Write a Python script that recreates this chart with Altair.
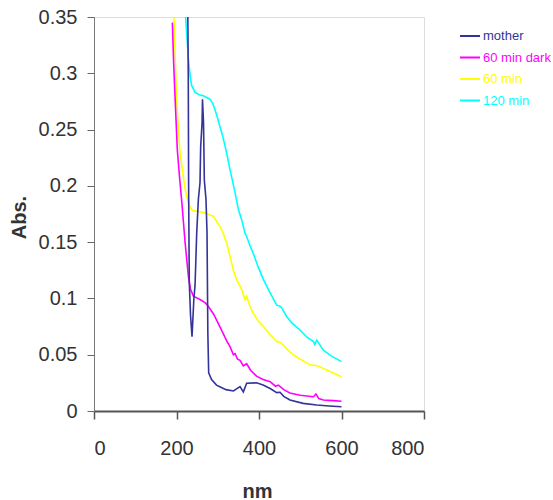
import altair as alt
import pandas as pd

series_names = ["mother", "60 min dark", "60 min", "120 min"]
series_colors = ["#333399", "#FF00FF", "#FFFF00", "#00FFFF"]

mother_nm = [226, 228.5, 229.5, 231, 234, 237.6, 239.5, 242, 245, 249, 253, 257, 258.6, 262, 263,
             265.5, 267.5, 271.5, 274, 276, 278, 285, 297, 305, 320, 338, 354, 362, 370, 394, 410,
             427, 443, 451, 460, 475, 507, 540, 570, 600]
mother_abs = [0.42, 0.30, 0.19, 0.114, 0.085, 0.066, 0.08, 0.099, 0.112, 0.158, 0.188, 0.203, 0.235,
              0.256, 0.277, 0.256, 0.205, 0.188, 0.158, 0.069, 0.034, 0.028, 0.023, 0.0216, 0.019,
              0.0178, 0.0216, 0.017, 0.0246, 0.025, 0.023, 0.020, 0.0163, 0.0166, 0.013, 0.0098,
              0.0068, 0.0053, 0.0045, 0.0038]

dark_nm = [190, 193, 196, 202, 208, 213, 221, 229, 234, 241, 257, 270, 277, 290, 297, 305, 313, 322,
           330, 338, 342, 348, 354, 362, 370, 380, 394, 410, 427, 440, 447, 460, 475, 500, 532, 538,
           545, 556, 580, 600]
dark_abs = [0.345, 0.31, 0.283, 0.232, 0.205, 0.185, 0.149, 0.119, 0.108, 0.102, 0.099, 0.096, 0.093,
            0.086, 0.081, 0.075, 0.069, 0.062, 0.057, 0.050, 0.051, 0.046, 0.045, 0.040, 0.042,
            0.036, 0.031, 0.028, 0.026, 0.022, 0.023, 0.019, 0.016, 0.014, 0.0127, 0.015, 0.011,
            0.0098, 0.0092, 0.0086]

light_nm = [190, 194, 200, 208, 215, 221, 228, 234, 240, 255, 270, 281, 289, 305, 313, 322, 330, 338,
            346, 358, 366, 370, 378, 386, 398, 411, 427, 443, 451, 455, 470, 483, 500, 524, 544, 560,
            572, 600]
light_abs = [0.40, 0.35, 0.277, 0.232, 0.212, 0.197, 0.186, 0.180, 0.178, 0.177, 0.176, 0.174, 0.173,
             0.164, 0.158, 0.149, 0.137, 0.125, 0.1165, 0.108, 0.099, 0.102, 0.093, 0.087, 0.080,
             0.075, 0.0676, 0.0617, 0.061, 0.060, 0.054, 0.050, 0.046, 0.041, 0.040, 0.037, 0.035,
             0.0305]

m120_nm = [212, 222, 229, 234, 237, 245, 255, 265, 281, 288, 293, 299, 305, 312, 318, 324, 330, 336,
           342, 350, 358, 366, 370, 378, 386, 398, 411, 427, 443, 451, 455, 467, 480, 499, 515, 532,
           535, 540, 556, 575, 600]
m120_abs = [0.41, 0.35, 0.312, 0.295, 0.289, 0.283, 0.281, 0.280, 0.277, 0.273, 0.268, 0.261, 0.253,
            0.244, 0.235, 0.225, 0.214, 0.204, 0.194, 0.179, 0.170, 0.158, 0.155, 0.147, 0.140,
            0.128, 0.1165, 0.105, 0.094, 0.093, 0.0916, 0.084, 0.078, 0.072, 0.066, 0.0617, 0.059,
            0.063, 0.054, 0.049, 0.0439]

x_ticks = [0, 200, 400, 600, 800]
y_ticks = [0, 0.05, 0.1, 0.15, 0.2, 0.25, 0.3, 0.35]

frames = []
for name, xs, ys, order in [
    ("120 min", m120_nm, m120_abs, 0),
    ("60 min", light_nm, light_abs, 1),
    ("60 min dark", dark_nm, dark_abs, 2),
    ("mother", mother_nm, mother_abs, 3),
]:
    frames.append(pd.DataFrame({"nm": xs, "abs": ys, "series": name, "ord": order}))
df = pd.concat(frames, ignore_index=True)

font = "Liberation Sans"

chart = alt.Chart(df).mark_line(strokeWidth=1.6, clip=True).encode(
    x=alt.X("nm:Q", scale=alt.Scale(domain=[0, 800], nice=False),
            axis=alt.Axis(values=x_ticks, title="nm", grid=False, labelFontSize=20, labelFont=font,
                          labelColor="#333333", tickSize=8, tickWidth=1.5, tickColor="#555555",
                          domainColor="#555555", domainWidth=2, labelPadding=19,
                          titleFont=font, titleFontSize=20, titleFontWeight="bold", titleColor="#333333",
                          titleBaseline="alphabetic", titleX=163, titleY=86, titleAlign="center")),
    y=alt.Y("abs:Q", scale=alt.Scale(domain=[0, 0.35], nice=False, zero=False),
            axis=alt.Axis(values=y_ticks, format=".2~f", title="Abs.", grid=False, labelFontSize=20,
                          labelFont=font, labelColor="#333333", tickSize=7, tickWidth=1, tickColor="#666666",
                          domainColor="#777777", domainWidth=1, labelPadding=10,
                          titleFont=font, titleFontSize=20, titleFontWeight="bold", titleColor="#333333",
                          titleAngle=270, titleBaseline="alphabetic", titleX=-69, titleY=200,
                          titleAlign="center")),
    color=alt.Color("series:N", scale=alt.Scale(domain=series_names, range=series_colors),
                    legend=alt.Legend(title=None, orient="none", legendX=365, legendY=8,
                                      symbolType="stroke", symbolStrokeWidth=2, symbolSize=400,
                                      labelFont=font, labelFontSize=13, labelOffset=2, rowPadding=3.5,
                                      padding=0,
                                      labelColor={"expr": "scale('color', datum.value)"})),
    detail="ord:O",
).properties(
    width=330, height=394,
    padding={"left": 94, "top": 17, "right": 129, "bottom": 89},
    autosize="none",
).configure_view(stroke=None).configure(background="white")

chart.save("out.html", embed_options={"renderer": "svg", "actions": False})
